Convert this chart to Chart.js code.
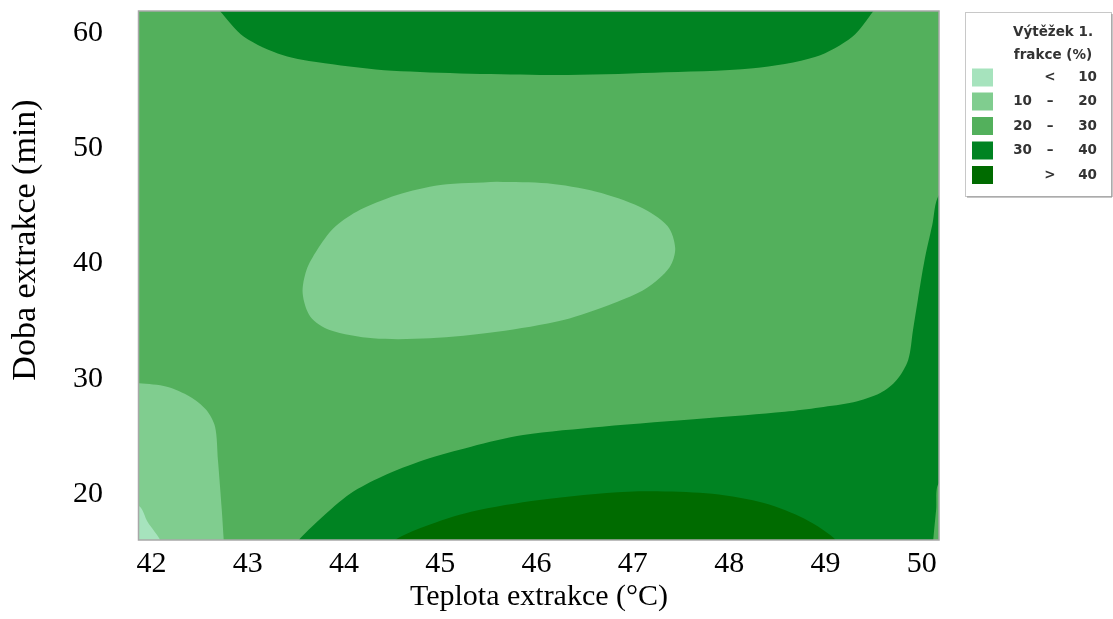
<!DOCTYPE html>
<html>
<head>
<meta charset="utf-8">
<script src="https://cdn.jsdelivr.net/npm/chart.js@4.4.1/dist/chart.umd.min.js"></script>
<style>
  html, body { margin: 0; padding: 0; background: #ffffff; }
  #wrap { width: 1113px; height: 619px; position: relative; }
</style>
</head>
<body>
<div id="wrap"><canvas id="c" width="1113" height="619"></canvas></div>
<script>
// Axis ticks and titles
const xTicks = [42, 43, 44, 45, 46, 47, 48, 49, 50];
const yTicks = [20, 30, 40, 50, 60];
const xTitle = 'Teplota extrakce (°C)';
const yTitle = 'Doba extrakce (min)';

// Legend
const legendTitle = ['Výtěžek 1.', 'frakce (%)'];
const legendRanges = [['', '<', '10'], ['10', '–', '20'], ['20', '–', '30'], ['30', '–', '40'], ['', '>', '40']];
const levelColors = ['#a6e3bd', '#80cd8f', '#53b05c', '#008322', '#006b00'];

// Iso-band outlines, points as [temperature °C, time min]
// 30–40 % band along the top edge
const bandTop3040 = [
  [49.60, 63.00], [49.50, 61.90], [49.28, 59.67], [48.90, 57.93], [48.25, 56.93],
  [47.22, 56.55], [46.13, 56.35], [44.50, 56.72], [43.80, 57.36], [43.36, 58.08],
  [42.96, 59.67], [42.71, 61.90], [42.60, 63.00]
];
// 10–20 % island in the middle
const bandMid1020 = [
  [45.59, 47.09], [45.00, 46.80], [44.55, 45.93], [44.13, 44.49], [43.89, 43.05],
  [43.72, 41.16], [43.61, 39.43], [43.57, 37.41], [43.65, 35.38], [43.85, 34.22],
  [44.30, 33.50], [44.89, 33.50], [45.59, 34.07], [46.28, 35.09], [46.80, 36.54],
  [47.14, 37.84], [47.38, 39.65], [47.44, 41.31], [47.36, 43.25], [47.07, 44.92],
  [46.62, 46.22], [46.11, 46.95], [45.59, 47.09]
];
// 10–20 % band in the lower left corner
const bandLeft1020 = [
  [42.76, 15.00], [42.75, 16.00], [42.73, 18.60], [42.69, 22.94], [42.66, 25.83],
  [42.57, 27.28], [42.40, 28.43], [42.16, 29.30], [41.87, 29.60], [41.60, 29.70],
  [41.60, 15.00]
];
// below 10 % in the lower left corner
const bandCorner10 = [
  [42.12, 15.00], [42.09, 16.00], [41.96, 17.56], [41.87, 18.95], [41.60, 19.40],
  [41.60, 15.00]
];
// 30–40 % band across the bottom and up the right edge
const bandBottom3040 = [
  [50.11, 15.00], [50.12, 16.00], [50.15, 18.60], [50.18, 20.95], [50.40, 21.00],
  [50.40, 47.00], [50.18, 45.93], [50.11, 43.33], [50.03, 40.29], [49.96, 36.82],
  [49.91, 34.22], [49.86, 31.62], [49.74, 29.88], [49.57, 28.75], [49.29, 27.95],
  [48.94, 27.50], [48.58, 27.13], [47.76, 26.56], [46.68, 25.83], [45.86, 25.11],
  [45.32, 24.10], [44.83, 22.94], [44.39, 21.49], [44.07, 20.05], [43.74, 17.74],
  [43.53, 16.00], [43.45, 15.00]
];
// above 40 % at the bottom
const bandBottom40 = [
  [49.13, 15.00], [49.09, 16.15], [48.74, 18.02], [48.31, 19.32], [47.76, 20.05],
  [46.95, 20.19], [46.03, 19.47], [45.32, 18.45], [44.83, 17.15], [44.53, 16.00],
  [44.45, 15.00]
];

const serif = '"Liberation Serif", "Times New Roman", serif';
const toXY = arr => arr.map(p => ({ x: p[0], y: p[1] }));

function band(points, color, order) {
  return {
    data: toXY(points),
    backgroundColor: color,
    borderWidth: 0,
    pointRadius: 0,
    fill: 'shape',
    tension: 0.3,
    order: order
  };
}

// plot background = the 20–30 % level
const backgroundLevel = {
  id: 'backgroundLevel',
  beforeDatasetsDraw(chart) {
    const { ctx, chartArea: a } = chart;
    ctx.save();
    ctx.fillStyle = levelColors[2];
    ctx.fillRect(a.left, a.top, a.right - a.left, a.bottom - a.top);
    ctx.restore();
  }
};

// frame, vertical axis title and the level legend
const decorations = {
  id: 'decorations',
  afterDraw(chart) {
    const { ctx, chartArea: a } = chart;
    ctx.save();
    ctx.strokeStyle = '#a8a8a8';
    ctx.lineWidth = 1.5;
    ctx.strokeRect(a.left - 0.5, a.top, a.right - a.left + 0.5, a.bottom - a.top);

    // y title
    ctx.save();
    ctx.translate(35, 240);
    ctx.rotate(-Math.PI / 2);
    ctx.fillStyle = '#000';
    ctx.font = '34px ' + serif;
    ctx.textAlign = 'center';
    ctx.textBaseline = 'alphabetic';
    ctx.fillText(yTitle, 0, 0);
    ctx.restore();

    // legend box
    const bx = 965, by = 12, bw = 146, bh = 184;
    ctx.fillStyle = '#fff';
    ctx.fillRect(bx, by, bw, bh);
    ctx.lineWidth = 1;
    ctx.strokeStyle = '#c8c8c8';
    ctx.strokeRect(bx + 0.5, by + 0.5, bw, bh);
    ctx.strokeStyle = '#8e8e8e';
    ctx.beginPath();
    ctx.moveTo(bx + bw + 1, by + 2);
    ctx.lineTo(bx + bw + 1, by + bh + 1);
    ctx.lineTo(bx + 2, by + bh + 1);
    ctx.stroke();

    ctx.fillStyle = '#333';
    ctx.font = 'bold 13.5px "DejaVu Sans", sans-serif';
    ctx.textBaseline = 'middle';
    ctx.textAlign = 'center';
    ctx.fillText(legendTitle[0], 1053, 32);
    ctx.fillText(legendTitle[1], 1053, 55);

    const rowY = [77.5, 101.5, 126, 150.5, 175];
    legendRanges.forEach((r, i) => {
      const y = rowY[i];
      ctx.fillStyle = levelColors[i];
      ctx.fillRect(972, y - 9, 21, 18);
      ctx.fillStyle = '#333';
      ctx.textAlign = 'right';
      ctx.fillText(r[0], 1032, y);
      ctx.textAlign = 'center';
      ctx.fillText(r[1], 1050, y);
      ctx.textAlign = 'right';
      ctx.fillText(r[2], 1097, y);
    });
    ctx.restore();
  }
};

new Chart(document.getElementById('c'), {
  type: 'line',
  data: {
    datasets: [
      band(bandTop3040, levelColors[3], 2),
      band(bandMid1020, levelColors[1], 2),
      band(bandLeft1020, levelColors[1], 2),
      band(bandCorner10, levelColors[0], 1),
      band(bandBottom3040, levelColors[3], 2),
      band(bandBottom40, levelColors[4], 1)
    ]
  },
  options: {
    responsive: false,
    animation: false,
    events: [],
    layout: { padding: { left: 0, right: 174, top: 11, bottom: 0 } },
    elements: { line: { capBezierPoints: false } },
    plugins: { legend: { display: false }, tooltip: { enabled: false } },
    scales: {
      x: {
        type: 'linear',
        min: 41.87,
        max: 50.18,
        afterBuildTicks: s => { s.ticks = xTicks.map(v => ({ value: v })); },
        afterFit: s => { s.height = 79; s.paddingLeft = 0; s.paddingRight = 0; },
        grid: { display: false, drawTicks: false },
        border: { display: false },
        ticks: {
          autoSkip: false, maxRotation: 0, padding: 6, color: '#000',
          font: { family: serif, size: 30 }
        },
        title: {
          display: true, text: xTitle, color: '#000',
          font: { family: serif, size: 30 }, padding: { top: 0, bottom: 4 }
        }
      },
      y: {
        type: 'linear',
        min: 16,
        max: 61.9,
        afterBuildTicks: s => { s.ticks = yTicks.map(v => ({ value: v })); },
        afterFit: s => { s.width = 139; s.paddingTop = 0; s.paddingBottom = 0; },
        grid: { display: false, drawTicks: false },
        border: { display: false },
        ticks: {
          autoSkip: false, padding: 36, color: '#000',
          font: { family: serif, size: 30 }
        }
      }
    }
  },
  plugins: [backgroundLevel, decorations]
});
</script>
</body>
</html>
